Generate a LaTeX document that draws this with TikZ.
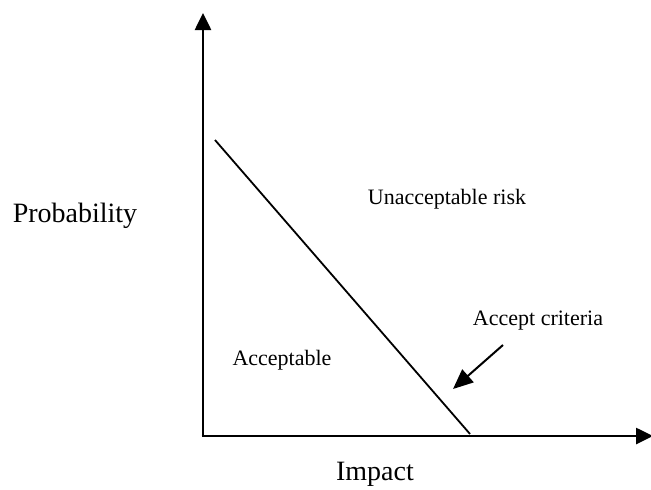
\documentclass[tikz,border=0pt]{standalone}
\usepackage{fontspec}
\setmainfont{Liberation Serif}
\usetikzlibrary{arrows.meta}
\tikzset{
  axis/.style={line width=2.6pt,-{Triangle[length=17pt,width=16pt]}},
  crit/.style={line width=1.8pt},
  pointer/.style={line width=2pt,-{Triangle[length=20pt,width=17pt]}},
  small/.style={font=\fontsize{22}{25}\selectfont,anchor=base,inner sep=0pt},
  big/.style={font=\fontsize{28}{31}\selectfont,anchor=base,inner sep=0pt},
}
\begin{document}
\begin{tikzpicture}[x=1pt,y=-1pt]
\useasboundingbox (0,0) rectangle (651,490);
\clip (0,0) rectangle (651,490);
\coordinate (o) at (203,436);
\coordinate (ytop) at (203,13);
\coordinate (xend) at (653,436);
\coordinate (d1) at (215,140);
\coordinate (d2) at (470,434);
\coordinate (p1) at (503,345);
\coordinate (p2) at (453,389);
\draw[axis] ([yshift=1.3pt]o) -- (ytop);
\draw[axis] ([xshift=-1.3pt]o) -- (xend);
\draw[crit] (d1) -- (d2);
\draw[pointer] (p1) -- (p2);
\node[big] (prob) at (75,222) {Probability};
\node[big] (imp) at (375,480) {Impact};
\node[small] (unacc) at (447,204) {Unacceptable risk};
\node[small] (acc) at (282,365) {Acceptable};
\node[small] (crittext) at (538,325) {Accept criteria};
\end{tikzpicture}
\end{document}
